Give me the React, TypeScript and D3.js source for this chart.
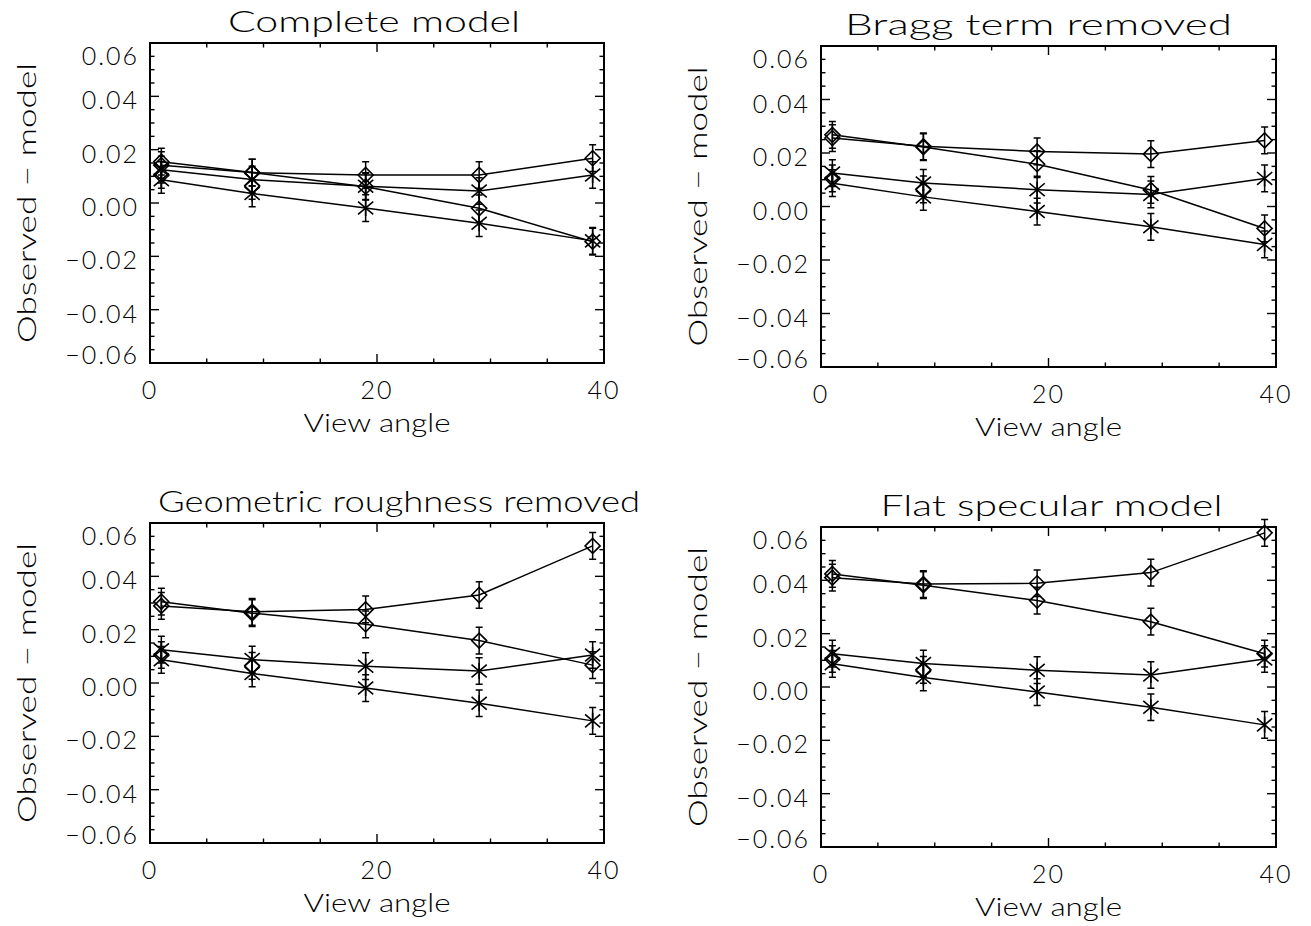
import React from "react";
import * as d3 from "d3";

// ---------------- data ----------------
const angles = [1, 9, 19, 29, 39];
const panelTitles = [
  "Complete model",
  "Bragg term removed",
  "Geometric roughness removed",
  "Flat specular model",
];
// diamond series (two per panel)
const completeA = [0.0142, 0.0114, 0.0105, 0.0105, 0.0168];
const completeB = [0.0155, 0.0114, 0.0061, -0.002, -0.0145];
const braggA = [0.0256, 0.0225, 0.0206, 0.0196, 0.0247];
const braggB = [0.0268, 0.0222, 0.0158, 0.0062, -0.0082];
const geomA = [0.0289, 0.0267, 0.0276, 0.033, 0.0514];
const geomB = [0.0305, 0.0262, 0.022, 0.0159, 0.0067];
const flatA = [0.041, 0.0386, 0.0389, 0.0429, 0.0578];
const flatB = [0.0424, 0.0382, 0.0324, 0.0245, 0.0125];
// asterisk series (same in every panel)
const asteriskC = [0.0125, 0.0088, 0.0063, 0.0045, 0.0105];
const asteriskD = [0.0087, 0.0036, -0.0019, -0.0076, -0.0142];
// isolated diamonds without a line
const extraAngles = [1, 9];
const extraDiamond = [0.0105, 0.0064];
const errorHalf = 0.005;

const yTickValues = [-0.06, -0.04, -0.02, 0.0, 0.02, 0.04, 0.06];
const yMinorStep = 0.005;
const xTickValues = [0, 20, 40];
const xMinorStep = 5;
const xDomain = [0, 40];
const yDomain = [-0.06, 0.06];
const xTitle = "View angle";
const yTitle = "Observed \u2212 model";

const diamondSeries = [
  [completeA, completeB],
  [braggA, braggB],
  [geomA, geomB],
  [flatA, flatB],
];

// ---------------- layout ----------------
const layout = [
  { left: 150, right: 604, top: 43, bottom: 363, titleW: 292, titleDx: -3 },
  { left: 821, right: 1276, top: 46, bottom: 367, titleW: 387, titleDx: -10 },
  { left: 150, right: 604, top: 523, bottom: 843, titleW: 482, titleDx: 22 },
  { left: 821, right: 1276, top: 527, bottom: 847, titleW: 342, titleDx: 3 },
];

const FONT = "Lato, 'DejaVu Sans', 'Liberation Sans', sans-serif";
const WEIGHT = 300;
const INK = "#000";

function fmt(v: number) {
  const s = Math.abs(v).toFixed(2);
  return (v < -1e-9 ? "\u2212" : "") + s;
}

function Diamond({ x, y, r }: { x: number; y: number; r: number }) {
  return (
    <path
      d={`M${x - r},${y}L${x},${y - r}L${x + r},${y}L${x},${y + r}Z`}
      fill="none"
      stroke={INK}
      strokeWidth={1.6}
    />
  );
}

function Asterisk({ x, y, r }: { x: number; y: number; r: number }) {
  const a = r * 0.95;
  const b = r * 0.8;
  return (
    <path
      d={`M${x},${y - r}L${x},${y + r}M${x - a},${y - b}L${x + a},${y + b}M${x - a},${y + b}L${x + a},${y - b}`}
      fill="none"
      stroke={INK}
      strokeWidth={1.6}
    />
  );
}

function ErrorBar({ x, y1, y2 }: { x: number; y1: number; y2: number }) {
  const c = 3.5;
  return (
    <path
      d={`M${x},${y1}L${x},${y2}M${x - c},${y1}L${x + c},${y1}M${x - c},${y2}L${x + c},${y2}`}
      fill="none"
      stroke={INK}
      strokeWidth={1.5}
    />
  );
}

function Panel({ idx }: { idx: number }) {
  const L = layout[idx];
  const x = d3.scaleLinear().domain(xDomain).range([L.left, L.right]);
  const y = d3.scaleLinear().domain(yDomain).range([L.bottom, L.top]);
  const line = d3
    .line<number>()
    .x((_, i) => x(angles[i]))
    .y((v) => y(v));

  const yMinor = d3.range(yDomain[0], yDomain[1] + 1e-9, yMinorStep);
  const xMinor = d3.range(xDomain[0], xDomain[1] + 1e-9, xMinorStep);
  const isMajorY = (v: number) =>
    yTickValues.some((t) => Math.abs(t - v) < 1e-9);
  const isMajorX = (v: number) =>
    xTickValues.some((t) => Math.abs(t - v) < 1e-9);
  const majLen = 9;
  const minLen = 4.5;

  const [sA, sB] = diamondSeries[idx];
  const cx = (L.left + L.right) / 2;
  const cy = (L.top + L.bottom) / 2;

  return (
    <g>
      {/* title */}
      <text
        x={cx + L.titleDx}
        y={L.top - 11}
        textAnchor="middle"
        fontFamily={FONT}
        fontWeight={WEIGHT}
        fontSize={30}
        fill={INK}
        textLength={L.titleW}
        lengthAdjust="spacingAndGlyphs"
      >
        {panelTitles[idx]}
      </text>

      {/* y ticks */}
      {yMinor.map((v, i) => {
        const len = isMajorY(v) ? majLen : minLen;
        const yy = y(v);
        return (
          <g key={"yt" + i}>
            <line x1={L.left} x2={L.left + len} y1={yy} y2={yy} stroke={INK} strokeWidth={1.4} />
            <line x1={L.right} x2={L.right - len} y1={yy} y2={yy} stroke={INK} strokeWidth={1.4} />
          </g>
        );
      })}
      {/* x ticks */}
      {xMinor.map((v, i) => {
        const len = isMajorX(v) ? majLen : minLen;
        const xx = x(v);
        return (
          <g key={"xt" + i}>
            <line x1={xx} x2={xx} y1={L.bottom} y2={L.bottom - len} stroke={INK} strokeWidth={1.4} />
            <line x1={xx} x2={xx} y1={L.top} y2={L.top + len} stroke={INK} strokeWidth={1.4} />
          </g>
        );
      })}

      {/* y tick labels */}
      {yTickValues.map((v, i) => {
        let yy = y(v) + 3;
        if (i === yTickValues.length - 1) yy = y(v) + 12;
        if (i === 0) yy = y(v) - 9;
        return (
          <text
            key={"yl" + i}
            x={L.left - 11}
            y={yy}
            textAnchor="end"
            dominantBaseline="central"
            fontFamily={FONT}
            fontWeight={WEIGHT}
            fontSize={25}
            letterSpacing={2}
            fill={INK}
          >
            {fmt(v)}
          </text>
        );
      })}
      {/* x tick labels */}
      {xTickValues.map((v, i) => (
        <text
          key={"xl" + i}
          x={x(v)}
          y={L.bottom + 36}
          textAnchor="middle"
          fontFamily={FONT}
          fontWeight={WEIGHT}
          fontSize={25}
          letterSpacing={2}
          fill={INK}
        >
          {String(v)}
        </text>
      ))}
      {/* axis titles */}
      <text
        x={cx}
        y={L.bottom + 69}
        textAnchor="middle"
        fontFamily={FONT}
        fontWeight={WEIGHT}
        fontSize={25}
        fill={INK}
        textLength={147}
        lengthAdjust="spacingAndGlyphs"
      >
        {xTitle}
      </text>
      <text
        transform={`translate(${L.left - 124},${cy}) rotate(-90)`}
        textAnchor="middle"
        dominantBaseline="central"
        fontFamily={FONT}
        fontWeight={WEIGHT}
        fontSize={25}
        fill={INK}
        textLength={280}
        lengthAdjust="spacingAndGlyphs"
      >
        {yTitle}
      </text>

      {/* lines */}
      {[sA, sB, asteriskC, asteriskD].map((s, i) => (
        <path key={"ln" + i} d={line(s) || ""} fill="none" stroke={INK} strokeWidth={1.5} />
      ))}

      {/* error bars */}
      {[sA, sB, asteriskC, asteriskD].map((s, si) =>
        s.map((v, i) => (
          <ErrorBar key={`eb${si}-${i}`} x={x(angles[i])} y1={y(v + errorHalf)} y2={y(v - errorHalf)} />
        ))
      )}
      {extraDiamond.map((v, i) => (
        <ErrorBar key={"ebx" + i} x={x(extraAngles[i])} y1={y(v + errorHalf)} y2={y(v - errorHalf)} />
      ))}

      {/* markers */}
      {[sA, sB].map((s, si) =>
        s.map((v, i) => <Diamond key={`dm${si}-${i}`} x={x(angles[i])} y={y(v)} r={7.5} />)
      )}
      {extraDiamond.map((v, i) => (
        <Diamond key={"dx" + i} x={x(extraAngles[i])} y={y(v)} r={7.5} />
      ))}
      {[asteriskC, asteriskD].map((s, si) =>
        s.map((v, i) => <Asterisk key={`as${si}-${i}`} x={x(angles[i])} y={y(v)} r={8} />)
      )}

      {/* frame */}
      <rect
        x={L.left}
        y={L.top}
        width={L.right - L.left}
        height={L.bottom - L.top}
        fill="none"
        stroke={INK}
        strokeWidth={2}
      />
    </g>
  );
}

export default function App() {
  return (
    <svg
      width={1311}
      height={926}
      viewBox="0 0 1311 926"
      style={{ position: "absolute", left: 0, top: 0, background: "#fff" }}
    >
      <rect x={0} y={0} width={1311} height={926} fill="#fff" />
      {layout.map((_, i) => (
        <Panel key={i} idx={i} />
      ))}
    </svg>
  );
}
